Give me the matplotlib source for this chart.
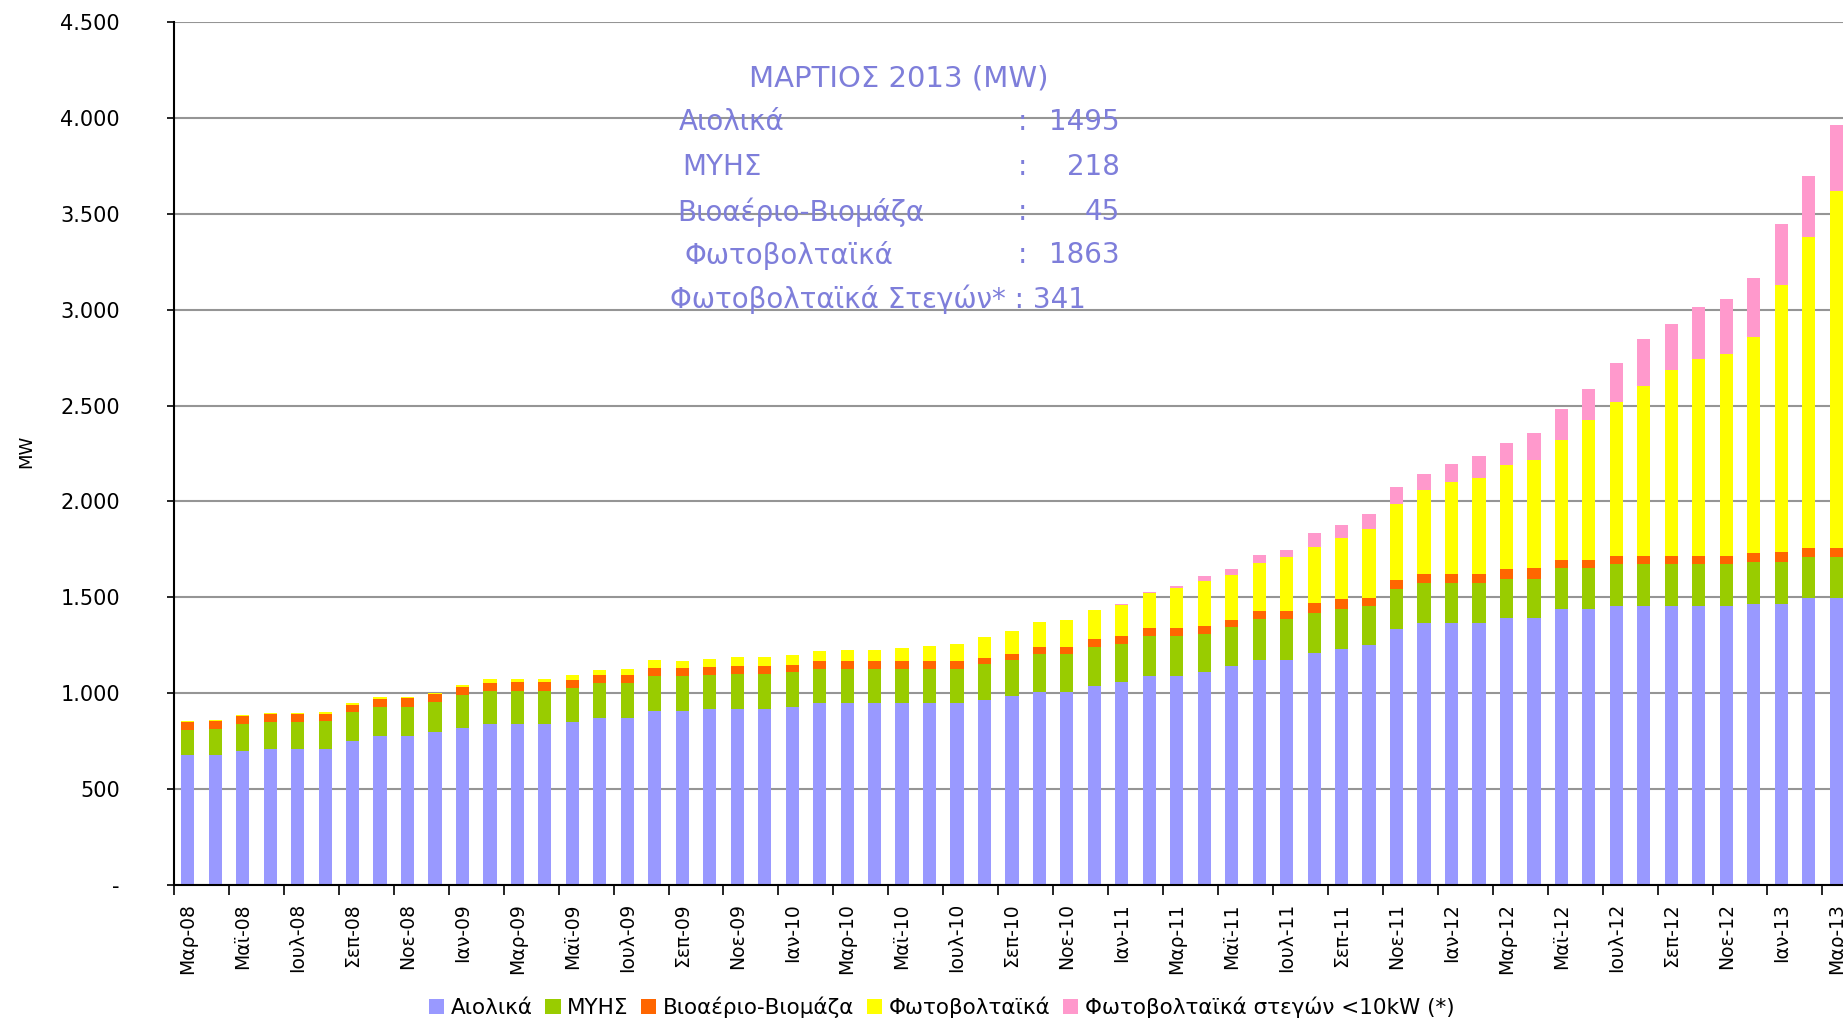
import numpy as np
import matplotlib
matplotlib.use('Agg')
import matplotlib.pyplot as plt
from matplotlib.ticker import FuncFormatter, FixedLocator

plt.rcParams['font.family'] = ['DejaVu Sans']

# Μήνες Μαρ-08 ... Μαρ-13 (61 μήνες)
tick_labels = ['Μαρ-08', 'Μαϊ-08', 'Ιουλ-08', 'Σεπ-08', 'Νοε-08', 'Ιαν-09',
               'Μαρ-09', 'Μαϊ-09', 'Ιουλ-09', 'Σεπ-09', 'Νοε-09', 'Ιαν-10',
               'Μαρ-10', 'Μαϊ-10', 'Ιουλ-10', 'Σεπ-10', 'Νοε-10', 'Ιαν-11',
               'Μαρ-11', 'Μαϊ-11', 'Ιουλ-11', 'Σεπ-11', 'Νοε-11', 'Ιαν-12',
               'Μαρ-12', 'Μαϊ-12', 'Ιουλ-12', 'Σεπ-12', 'Νοε-12', 'Ιαν-13',
               'Μαρ-13']

aiolika = [676, 676, 697, 708, 708, 708, 750, 778, 778, 799,
           820, 841, 841, 841, 851, 872, 872, 910, 910, 917,
           917, 917, 928, 947, 947, 947, 947, 947, 947, 966,
           986, 1007, 1007, 1040, 1059, 1089, 1089, 1110, 1141, 1171,
           1171, 1211, 1232, 1251, 1336, 1364, 1364, 1364, 1394, 1394,
           1437, 1437, 1455, 1455, 1455, 1455, 1455, 1467, 1467, 1495,
           1495]
myhs = [135, 138, 144, 142, 143, 146, 152, 152, 152, 154,
        170, 171, 173, 173, 175, 182, 182, 181, 181, 180,
        182, 182, 183, 182, 182, 182, 182, 182, 182, 184,
        186, 196, 196, 203, 198, 207, 207, 200, 203, 216,
        216, 209, 206, 205, 206, 213, 213, 213, 202, 202,
        218, 218, 218, 218, 218, 218, 218, 215, 220, 218,
        218]
bio = [40, 41, 40, 41, 40, 40, 39, 42, 45, 42,
       44, 44, 45, 45, 41, 40, 40, 41, 41, 41,
       41, 41, 37, 38, 38, 38, 38, 38, 38, 36,
       35, 38, 38, 38, 40, 43, 43, 43, 36, 40,
       40, 49, 52, 43, 49, 43, 43, 43, 52, 55,
       40, 40, 43, 43, 43, 43, 43, 50, 47, 45,
       45]
fv = [3, 3, 5, 5, 5, 9, 8, 8, 8, 8,
      9, 18, 13, 13, 29, 27, 30, 40, 38, 40,
      47, 47, 50, 52, 60, 60, 71, 81, 88, 106,
      118, 128, 142, 153, 163, 186, 209, 232, 236, 252,
      284, 294, 322, 357, 395, 439, 479, 505, 540, 566,
      626, 730, 804, 884, 972, 1028, 1054, 1127, 1396, 1621,
      1863]
fv_steges = [0, 0, 0, 0, 0, 0, 0, 0, 0, 0,
             0, 0, 0, 0, 0, 0, 0, 0, 0, 0,
             0, 0, 0, 0, 0, 0, 0, 0, 0, 0,
             0, 0, 0, 0, 3, 5, 12, 26, 34, 44,
             38, 72, 66, 79, 92, 84, 96, 114, 118, 140,
             162, 162, 203, 248, 238, 268, 286, 307, 318, 316,
             341]

series = [
    ('Αιολικά', aiolika, '#9999FF'),
    ('ΜΥΗΣ', myhs, '#99CC00'),
    ('Βιοαέριο-Βιομάζα', bio, '#FF6600'),
    ('Φωτοβολταϊκά', fv, '#FFFF00'),
    ('Φωτοβολταϊκά στεγών <10kW (*)', fv_steges, '#FF99CC'),
]

n = len(aiolika)
x = np.arange(n)

fig = plt.figure(figsize=(18.43, 10.24), dpi=100)
ax = fig.add_axes([174 / 1843, 0.1357, 1 - 174 / 1843, 0.8428])

bottom = np.zeros(n)
for name, vals, col in series:
    vals = np.array(vals, dtype=float)
    ax.bar(x, vals, width=0.48, bottom=bottom, color=col, label=name, linewidth=0)
    bottom += vals

ax.set_xlim(-0.5, 60.25)
ax.set_ylim(0, 4500)
ax.set_yticks(np.arange(0, 4501, 500))


def fmt(v, pos):
    if v == 0:
        return '-'
    return '{:,.0f}'.format(v).replace(',', '.')


ax.yaxis.set_major_formatter(FuncFormatter(fmt))
ax.tick_params(axis='y', labelsize=15, length=5, width=1.2, pad=34, colors='black')
ax.grid(axis='y', color='#959595', linewidth=1.5)
ax.set_axisbelow(True)

# x ticks: γραμμές στα όρια κάθε 2 μηνών, ετικέτες στο κέντρο της μπάρας
ax.xaxis.set_major_locator(FixedLocator(np.arange(-0.5, 60.5, 2)))
ax.xaxis.set_major_formatter(FuncFormatter(lambda v, p: ''))
ax.xaxis.set_minor_locator(FixedLocator(np.arange(0, 61, 2)))
ax.set_xticklabels(tick_labels, minor=True, rotation=90, fontsize=13.5)
ax.tick_params(axis='x', which='major', length=7, width=1.2)
ax.tick_params(axis='x', which='minor', length=0, pad=13)

for s in ['top', 'right']:
    ax.spines[s].set_visible(False)
ax.spines['left'].set_linewidth(1.5)
ax.spines['bottom'].set_linewidth(1.5)

fig.text(26 / 1843, 0.559, 'MW', rotation=90, fontsize=13, ha='center', va='center')

# πλαίσιο κειμένου
tc = '#7E7EDA'
fig.text(899 / 1843, 1 - 79 / 1024, 'ΜΑΡΤΙΟΣ 2013 (MW)', color=tc, fontsize=21,
         ha='center', va='center')
rows = [('Αιολικά', '1495', 679, 122),
        ('ΜΥΗΣ', '218', 682, 167),
        ('Βιοαέριο-Βιομάζα', '45', 677, 212),
        ('Φωτοβολταϊκά', '1863', 684, 255)]
for lbl, val, lx, ly in rows:
    fig.text(lx / 1843, 1 - ly / 1024, lbl, color=tc, fontsize=20, ha='left', va='center')
    fig.text(1018 / 1843, 1 - ly / 1024, ':', color=tc, fontsize=20, ha='left', va='center')
    fig.text(1120 / 1843, 1 - ly / 1024, val, color=tc, fontsize=20, ha='right', va='center')
fig.text(670 / 1843, 1 - 299 / 1024, 'Φωτοβολταϊκά Στεγών* : 341', color=tc, fontsize=20,
         ha='left', va='center')

fig.legend(loc='center', bbox_to_anchor=(0.511, 0.016), ncol=5, frameon=False,
           fontsize=15.5, handlelength=0.7, handleheight=0.7, handletextpad=0.3,
           columnspacing=0.6)

fig.savefig('out.png', dpi=100)
